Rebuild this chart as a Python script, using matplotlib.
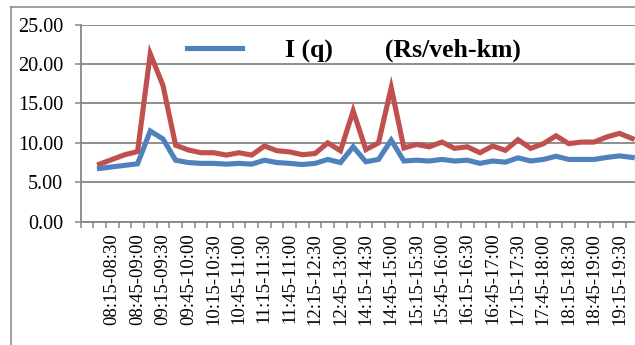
import numpy as np
import matplotlib
matplotlib.use("Agg")
import matplotlib.pyplot as plt
from matplotlib.lines import Line2D
from matplotlib.ticker import FixedLocator

plt.rcParams.update({"font.family": ["Liberation Serif", "DejaVu Serif"]})

GRID = "#868686"
BLUE, RED = "#4F81BD", "#C0504D"

# 15-minute intervals; first slot has no reading, 13:00-14:00 break skipped
slots = ["", "08:00-08:15", "08:15-08:30", "08:30-08:45", "08:45-09:00",
         "09:00-09:15", "09:15-09:30", "09:30-09:45", "09:45-10:00",
         "10:00-10:15", "10:15-10:30", "10:30-10:45", "10:45-11:00",
         "11:00-11:15", "11:15-11:30", "11:30-11:45", "11:45-11:00",
         "12:00-12:15", "12:15-12:30", "12:30-12:45", "12:45-13:00",
         "14:00-14:15", "14:15-14:30", "14:30-14:45", "14:45-15:00",
         "15:00-15:15", "15:15-15:30", "15:30-15:45", "15:45-16:00",
         "16:00-16:15", "16:15-16:30", "16:30-16:45", "16:45-17:00",
         "17:00-17:15", "17:15-17:30", "17:30-17:45", "17:45-18:00",
         "18:00-18:15", "18:15-18:30", "18:30-18:45", "18:45-19:00",
         "19:00-19:15", "19:15-19:30", "19:30-19:45"]

iq = [np.nan, 6.75, 6.95, 7.15, 7.35, 11.5, 10.5, 7.8, 7.5, 7.4, 7.4,
      7.3, 7.4, 7.3, 7.8, 7.5, 7.4, 7.25, 7.4, 7.9, 7.5, 9.5, 7.6, 7.9,
      10.35, 7.7, 7.8, 7.7, 7.9, 7.7, 7.8, 7.4, 7.7, 7.55, 8.1, 7.7,
      7.9, 8.3, 7.9, 7.9, 7.9, 8.15, 8.35, 8.15]

total = [np.nan, 7.3, 7.9, 8.5, 8.9, 21.3, 17.3, 9.7, 9.1, 8.75, 8.75,
         8.45, 8.75, 8.45, 9.6, 9.0, 8.85, 8.5, 8.65, 10.0, 9.0, 14.05,
         9.15, 10.0, 17.0, 9.35, 9.8, 9.5, 10.1, 9.3, 9.5, 8.75, 9.6,
         9.05, 10.4, 9.3, 9.9, 10.9, 9.9, 10.1, 10.1, 10.75, 11.2, 10.55]

W, H = 635, 345
fig = plt.figure(figsize=(W / 100, H / 100), dpi=100)
# plot area runs slightly past the right edge of the canvas
ax = fig.add_axes([80.5 / W, 123.3 / H, (638.5 - 80.5) / W, 197.1 / H])

x = np.arange(1, len(slots) + 1)
ax.plot(x, total, color=RED, lw=3.7, solid_joinstyle="miter", zorder=3)
ax.plot(x, iq, color=BLUE, lw=3.7, solid_joinstyle="miter", zorder=4,
        label="I (q)        (Rs/veh-km)")

ax.set_xlim(0.5, len(slots) + 0.5)
ax.set_ylim(0, 25)
ax.set_yticks(np.arange(0, 26, 5))
ax.set_yticklabels([f"{v:.2f}" for v in np.arange(0, 26, 5)], fontsize=14.5)
ax.grid(axis="y", color=GRID, lw=1.3)
ax.set_axisbelow(True)

ax.set_xticks(x[::2])
ax.set_xticklabels(slots[::2], rotation=90, fontsize=13.5)
ax.xaxis.set_minor_locator(FixedLocator(np.arange(0.5, len(slots) + 1)))
ax.tick_params(axis="x", which="major", length=0, pad=8)
ax.tick_params(axis="x", which="minor", length=4.5, width=1.1, color=GRID,
               direction="out")
ax.tick_params(axis="y", length=4.5, width=1.1, color=GRID, pad=8)

for s in ("top", "right"):
    ax.spines[s].set_visible(False)
for s in ("left", "bottom"):
    ax.spines[s].set_color(GRID)
    ax.spines[s].set_linewidth(1.3)

ax.legend(loc="center left", bbox_to_anchor=(187 / W, 1 - 50.7 / H),
          bbox_transform=fig.transFigure, frameon=False, borderpad=0,
          borderaxespad=0, handlelength=2.14, handletextpad=1.67,
          prop={"weight": "bold", "size": 18.5})

# outer chart frame (cut off on the right and bottom)
fig.add_artist(Line2D([10.7 / W, 10.7 / W], [0, 1 - 6.7 / H], color=GRID,
                      lw=1.1, transform=fig.transFigure))
fig.add_artist(Line2D([10.7 / W, 1], [1 - 6.7 / H, 1 - 6.7 / H], color=GRID,
                      lw=1.1, transform=fig.transFigure))

fig.savefig("out.png", dpi=100)
